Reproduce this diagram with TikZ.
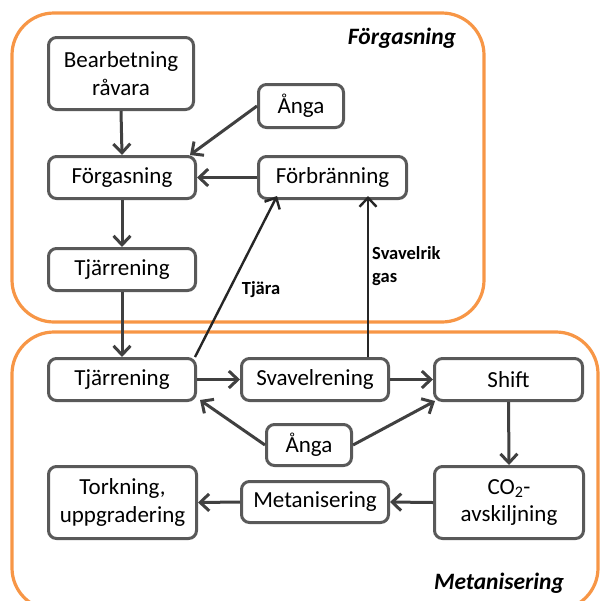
\documentclass[tikz,border=0pt]{standalone}
\usepackage{fontspec}
\setmainfont{Carlito}
\usetikzlibrary{arrows.meta}
\definecolor{orng}{HTML}{F79646}
\definecolor{boxgray}{HTML}{595959}
\definecolor{arrgray}{HTML}{404040}
\definecolor{dark}{HTML}{262626}
\begin{document}
\begin{tikzpicture}[x=1pt,y=-1pt,
  proc/.style={draw=boxgray,line width=3pt,rounded corners=8pt,fill=white,
    align=center,inner sep=2pt,font=\fontsize{23}{27.5}\selectfont,text=black},
  flow/.style={draw=arrgray,line width=3pt,-{Straight Barb[length=9pt,width=17pt]}},
  thin flow/.style={draw=dark,line width=2.4pt,-{Straight Barb[length=9pt,width=17pt]}},
  area/.style={draw=orng,line width=3.2pt,rounded corners=42pt},
  lbl/.style={font=\fontsize{18.5}{23}\selectfont\bfseries,text=black,align=left,inner sep=0pt},
  ttl/.style={font=\fontsize{23.5}{26}\selectfont\bfseries\itshape,text=black,inner sep=0pt}]
\useasboundingbox (0,0) rectangle (601,600);
\begin{scope}
\clip (0,0) rectangle (601,600);
\draw[area] (12,13) rectangle (484,322);
\draw[area] (12,332) rectangle (598,610);
\end{scope}
\node[ttl] (t1) at (402,38) {Förgasning};
\node[ttl] (t2) at (499,583) {Metanisering};

\node[proc,minimum width=145pt,minimum height=72pt] (bear) at (121,73.5) {Bearbetning\\råvara};
\node[proc,minimum width=147pt,minimum height=42pt] (forg) at (122,177.5) {Förgasning};
\node[proc,minimum width=147pt,minimum height=42pt] (tjar1) at (122,269.5) {Tjärrening};
\node[proc,minimum width=85pt,minimum height=43pt] (anga1) at (301,106) {Ånga};
\node[proc,minimum width=148pt,minimum height=42pt] (forb) at (332.5,177.5) {Förbränning};
\node[proc,minimum width=147pt,minimum height=42pt] (tjar2) at (122,379.5) {Tjärrening};
\node[proc,minimum width=147pt,minimum height=42pt] (svav) at (315,379.5) {Svavelrening};
\node[proc,minimum width=148pt,minimum height=42pt] (shift) at (508.5,379.5) {Shift};
\node[proc,minimum width=85pt,minimum height=41pt] (anga2) at (309,445) {Ånga};
\node[proc,minimum width=148pt,minimum height=72pt] (tork) at (122.5,502.5) {Torkning,\\uppgradering};
\node[proc,minimum width=147pt,minimum height=41pt] (meta) at (315,502) {Metanisering};
\node[proc,minimum width=149pt,minimum height=72pt] (co2) at (509,502.5) {CO\textsubscript{2}-\\avskiljning};

\draw[flow] (bear.south) -- (forg.north);
\draw[flow] (anga1.west) -- ([xshift=-7pt]forg.north east);
\draw[flow] (forb.west) -- (forg.east);
\draw[flow] (forg.south) -- (tjar1.north);
\draw[flow] (tjar1.south) -- (tjar2.north);
\draw[thin flow] ([xshift=-2pt]tjar2.north east) -- ([xshift=20pt,yshift=4pt]forb.south west);
\draw[thin flow] ([xshift=53pt]svav.north) -- ([xshift=53pt,yshift=4pt]svav.north |- forb.south);
\draw[flow] (tjar2.east) -- (svav.west);
\draw[flow] (svav.east) -- (shift.west);
\draw[flow] (anga2.west) -- ([xshift=3pt,yshift=2pt]tjar2.south east);
\draw[flow] (anga2.east) -- ([xshift=2pt,yshift=1pt]shift.south west);
\draw[flow] (shift.south) -- (co2.north);
\draw[flow] (co2.west) -- (meta.east);
\draw[flow] (meta.west) -- (tork.east);

\node[lbl] (tjara) at (261,290) {Tjära};
\node[lbl,anchor=north west] (svlbl) at (372,246) {Svavelrik\\gas};
\end{tikzpicture}
\end{document}
